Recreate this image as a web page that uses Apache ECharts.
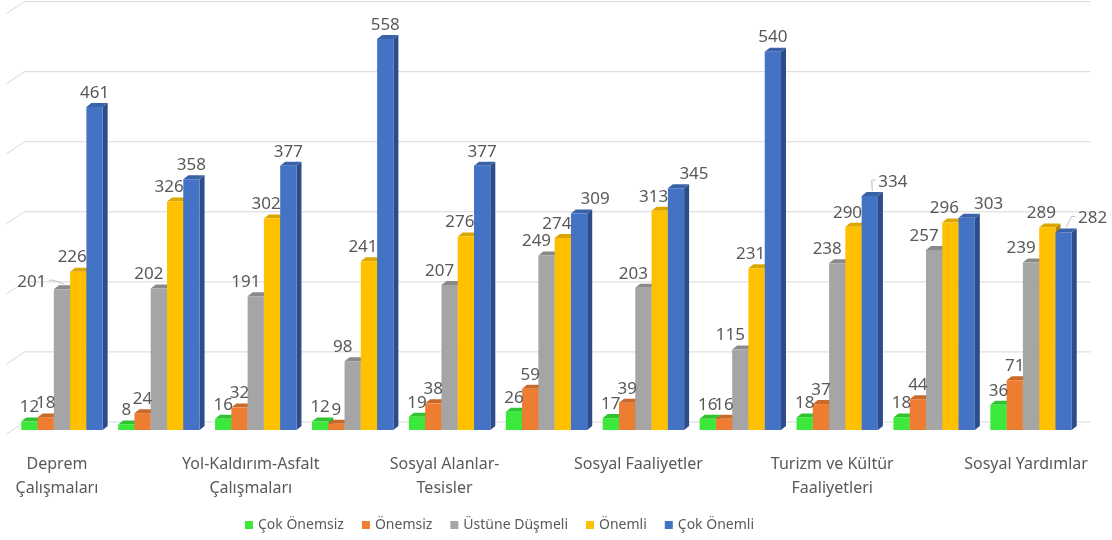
<!DOCTYPE html>
<html>
<head>
<meta charset="utf-8">
<script src="https://cdn.jsdelivr.net/npm/echarts@6/dist/echarts.min.js"></script>
<style>
  html, body { margin: 0; padding: 0; background: #ffffff; }
  #chart { width: 1112px; height: 540px; }
</style>
</head>
<body>
<div id="chart"></div>
<script>
// Survey categories (every other name is shown on the axis)
const categories = [
  'Deprem\nÇalışmaları',
  'Park ve Bahçe\nDüzenlemeleri',
  'Yol-Kaldırım-Asfalt\nÇalışmaları',
  'Altyapı\nHizmetleri',
  'Sosyal Alanlar-\nTesisler',
  'Temizlik\nHizmetleri',
  'Sosyal Faaliyetler',
  'Ulaşım\nHizmetleri',
  'Turizm ve Kültür\nFaaliyetleri',
  'Çevre\nDüzenlemesi',
  'Sosyal Yardımlar'
];

// Response counts per importance level
const cokOnemsiz    = [12, 8, 16, 12, 19, 26, 17, 16, 18, 18, 36];
const onemsiz       = [18, 24, 32, 9, 38, 59, 39, 16, 37, 44, 71];
const ustuneDusmeli = [201, 202, 191, 98, 207, 249, 203, 115, 238, 257, 239];
const onemli        = [226, 326, 302, 241, 276, 274, 313, 231, 290, 296, 289];
const cokOnemli     = [461, 358, 377, 558, 377, 309, 345, 540, 334, 303, 282];

const seriesNames = ['Çok Önemsiz', 'Önemsiz', 'Üstüne Düşmeli', 'Önemli', 'Çok Önemli'];
const seriesValues = [cokOnemsiz, onemsiz, ustuneDusmeli, onemli, cokOnemli];

// Value axis ticks drawn as the back-wall grid
const yTicks = [0, 100, 200, 300, 400, 500, 600];

// Face colours: front, side, top
const palette = [
  { front: '#3de83d', side: '#26a326', top: '#2fc42f' },
  { front: '#ed7d31', side: '#a9561f', top: '#c9692a' },
  { front: '#a5a5a5', side: '#727272', top: '#8a8a8a' },
  { front: '#ffc000', side: '#b58800', top: '#dba600' },
  { front: '#4472c4', side: '#2c4d8a', top: '#3a62a8' }
];

// Per-label placement tweaks: "series,category" -> [dx, dy, leader line]
const labelNudge = {
  '2,0': [-20, 7, true],
  '4,5': [16, 0],
  '4,6': [18, 0],
  '4,8': [23, 0, true],
  '4,9': [22, 0],
  '4,10': [29, 0, true]
};
// Default horizontal label shift per series
const labelShift = [0, 0, -10, -6, 0];

const DEPTH_X = 5, DEPTH_Y = 4;
const FONT = "'Noto Sans', 'Open Sans', sans-serif";

function makeBarRenderer(s) {
  return function (params, api) {
    const idx = api.value(0);
    const v = api.value(1);
    const base = api.coord([idx, 0]);
    const top = api.coord([idx, v]);
    const band = api.size([1, 0])[0];
    const bw = band * 0.168;
    const x = base[0] - 2.5 * bw + s * bw;
    const yTop = top[1];
    const yBot = base[1];
    const c = palette[s];
    const nudge = labelNudge[s + ',' + idx] || [0, 0, false];
    const lx = x + bw / 2 + labelShift[s] + nudge[0];
    const ly = yTop - 14 + nudge[1];
    const children = [
      {
        type: 'polygon',
        shape: { points: [[x + bw, yTop], [x + bw + DEPTH_X, yTop - DEPTH_Y], [x + bw + DEPTH_X, yBot - DEPTH_Y], [x + bw, yBot]] },
        style: { fill: c.side }
      },
      {
        type: 'polygon',
        shape: { points: [[x, yTop], [x + DEPTH_X, yTop - DEPTH_Y], [x + bw + DEPTH_X, yTop - DEPTH_Y], [x + bw, yTop]] },
        style: { fill: c.top }
      },
      {
        type: 'rect',
        shape: { x: x, y: yTop, width: bw, height: yBot - yTop },
        style: { fill: c.front }
      },
      {
        type: 'text',
        z2: 100,
        style: {
          text: String(v),
          x: lx,
          y: ly,
          align: 'center',
          verticalAlign: 'middle',
          fill: '#595959',
          font: '17px ' + FONT
        }
      }
    ];
    if (nudge[2]) {
      // short leader from the shifted label back to the bar top
      const fromRight = nudge[0] < 0;
      const ex = fromRight ? lx + 17 : lx - 17;
      const tx = x + bw / 2 + DEPTH_X / 2;
      children.push({
        type: 'polyline',
        z2: 99,
        shape: { points: [[ex, ly - 2], [ex + (fromRight ? 4 : -4), ly - 2], [tx, yTop - DEPTH_Y - 1]] },
        style: { stroke: '#bfbfbf', lineWidth: 1, fill: null }
      });
    }
    return { type: 'group', children: children };
  };
}

const chart = echarts.init(document.getElementById('chart'), null, { renderer: 'canvas' });

const series = [
  {
    type: 'custom',
    name: 'grid-wall',
    silent: true,
    z: 1,
    data: yTicks.map(t => [0, t]),
    encode: { x: 0, y: 1 },
    renderItem: function (params, api) {
      const cs = params.coordSys;
      const y = api.coord([0, api.value(1)])[1] - 8;
      return {
        type: 'polyline',
        shape: { points: [[cs.x - 7, y + 12], [cs.x + 11, y], [cs.x + cs.width + 11, y]] },
        style: { stroke: '#d9d9d9', lineWidth: 1, fill: null }
      };
    }
  }
];

seriesValues.forEach((vals, s) => {
  series.push({
    type: 'custom',
    name: seriesNames[s],
    z: 2,
    itemStyle: { color: palette[s].front },
    data: vals.map((v, i) => [i, v]),
    encode: { x: 0, y: 1 },
    renderItem: makeBarRenderer(s)
  });
});

chart.setOption({
  animation: false,
  backgroundColor: '#ffffff',
  grid: { left: 13.5, right: 32.5, top: 9.6, bottom: 110 },
  legend: {
    data: seriesNames,
    left: 240,
    top: 513,
    icon: 'rect',
    itemWidth: 8,
    itemHeight: 8,
    itemGap: 18,
    textStyle: { color: '#595959', fontSize: 14, fontFamily: FONT }
  },
  xAxis: {
    type: 'category',
    data: categories,
    boundaryGap: true,
    axisLine: { show: false },
    axisTick: { show: false },
    splitLine: { show: false },
    axisLabel: {
      interval: 1,
      margin: 22,
      color: '#595959',
      fontSize: 16,
      fontFamily: FONT,
      lineHeight: 24,
      padding: [0, 10, 0, 0]
    }
  },
  yAxis: {
    type: 'value',
    min: 0,
    max: 600,
    interval: 100,
    show: false,
    splitLine: { show: false }
  },
  series: series
});
</script>
</body>
</html>
